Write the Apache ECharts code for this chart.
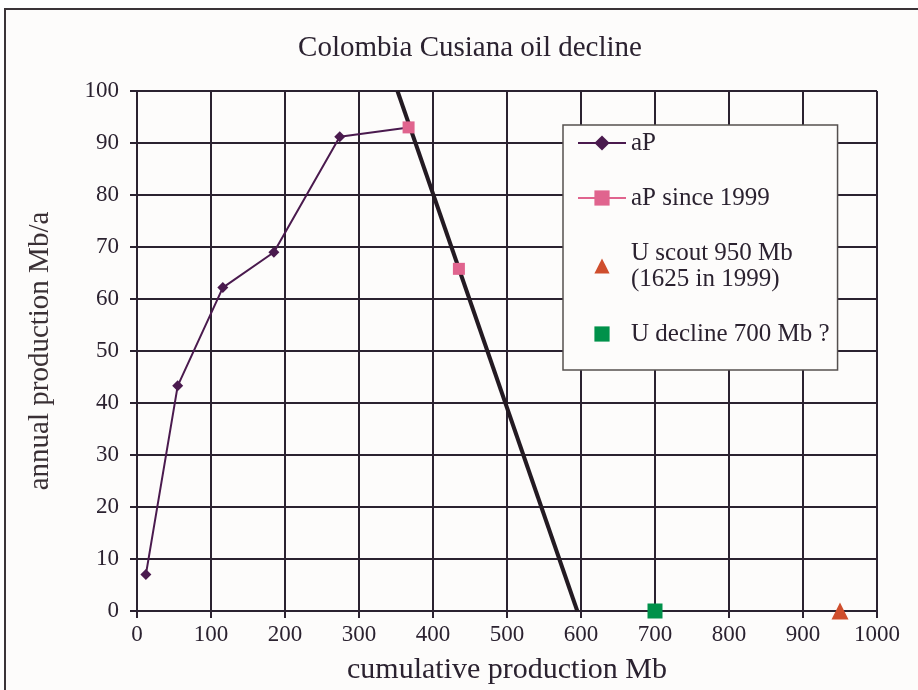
<!DOCTYPE html>
<html>
<head>
<meta charset="utf-8">
<script src="https://cdn.jsdelivr.net/npm/echarts@6/dist/echarts.min.js"></script>
<style>
  html, body { margin: 0; padding: 0; background: #ffffff; }
  #chart { width: 918px; height: 690px; }
</style>
</head>
<body>
<div id="chart"></div>
<script>
// cumulative production (Mb) vs annual production (Mb/a)
const apCum = [12, 55, 116, 185, 274, 367]
const apProd = [7, 43.3, 62.2, 69, 91.2, 93]
const since99Cum = [367, 435]
const since99Prod = [93, 65.8]
const declineCum = [352, 595]
const declineProd = [100, 0]
const scoutU = [[950, 0]]
const declineU = [[700, 0]]

const zip = (xs, ys) => xs.map((x, i) => [x, ys[i]])

const serif = '"Liberation Serif", "DejaVu Serif", serif'
const ink = '#2b2230'

const chart = echarts.init(document.getElementById('chart'))

chart.setOption({
  backgroundColor: '#ffffff',
  animation: false,
  graphic: [
    {
      type: 'rect',
      z: -10,
      shape: { x: 5, y: 9, width: 1000, height: 1000 },
      style: { fill: '#fdfcfb', stroke: '#3a3438', lineWidth: 2 }
    }
  ],
  title: {
    text: 'Colombia Cusiana oil decline',
    left: 465,
    top: 29,
    textAlign: 'center',
    textStyle: { fontFamily: serif, fontWeight: 'normal', fontSize: 29, color: ink }
  },
  grid: { left: 137, right: 41, top: 91, bottom: 76 },
  xAxis: {
    type: 'value',
    min: 0,
    max: 1000,
    interval: 100,
    name: 'cumulative production Mb',
    nameLocation: 'middle',
    nameGap: 44,
    nameTextStyle: { fontFamily: serif, fontSize: 30, color: ink },
    axisLine: { show: true, lineStyle: { color: ink, width: 2 } },
    axisTick: { show: true, length: 7, lineStyle: { color: ink, width: 2 } },
    axisLabel: { fontFamily: serif, fontSize: 23, color: ink, margin: 12, formatter: v => String(v) },
    splitLine: { show: true, lineStyle: { color: ink, width: 2 } }
  },
  yAxis: {
    type: 'value',
    min: 0,
    max: 100,
    interval: 10,
    name: 'annual production Mb/a',
    nameLocation: 'middle',
    nameGap: 82,
    nameTextStyle: { fontFamily: serif, fontSize: 29, color: '#3a3035' },
    axisLine: { show: true, lineStyle: { color: ink, width: 2 } },
    axisTick: { show: true, length: 7, lineStyle: { color: ink, width: 2 } },
    axisLabel: { fontFamily: serif, fontSize: 23, color: ink, margin: 18 },
    splitLine: { show: true, lineStyle: { color: ink, width: 2 } }
  },
  legend: {
    orient: 'vertical',
    left: 563,
    top: 125,
    padding: [5, 8, 23, 14],
    itemGap: 29,
    itemWidth: 48,
    itemHeight: 19,
    backgroundColor: '#fdfcfb',
    borderColor: '#55504f',
    borderWidth: 1.5,
    textStyle: { fontFamily: serif, fontSize: 25, color: ink, lineHeight: 26 },
    data: [
      { name: 'aP' },
      { name: 'aP since 1999', lineStyle: { color: '#e0648e', width: 2, opacity: 1 } },
      { name: 'U scout 950 Mb\n(1625 in 1999)' },
      { name: 'U decline 700 Mb ?' }
    ]
  },
  series: [
    {
      name: 'decline',
      type: 'line',
      data: zip(declineCum, declineProd),
      symbol: 'none',
      lineStyle: { color: '#231a22', width: 4 },
      z: 3
    },
    {
      name: 'aP',
      type: 'line',
      data: zip(apCum, apProd),
      symbol: 'diamond',
      symbolSize: 11,
      lineStyle: { color: '#4a1a4e', width: 2 },
      itemStyle: { color: '#4a1a4e' },
      z: 4
    },
    {
      name: 'aP since 1999',
      type: 'line',
      data: zip(since99Cum, since99Prod),
      symbol: 'rect',
      symbolSize: 12,
      lineStyle: { color: '#e0648e', width: 2, opacity: 0 },
      itemStyle: { color: '#e0648e' },
      z: 5
    },
    {
      name: 'U scout 950 Mb\n(1625 in 1999)',
      type: 'line',
      data: scoutU,
      symbol: 'triangle',
      symbolSize: 17,
      showAllSymbol: true,
      lineStyle: { width: 0, opacity: 0 },
      itemStyle: { color: '#cf4e2d', opacity: 1 },
      clip: false,
      z: 6
    },
    {
      name: 'U decline 700 Mb ?',
      type: 'line',
      data: declineU,
      symbol: 'rect',
      symbolSize: 15,
      showAllSymbol: true,
      lineStyle: { width: 0, opacity: 0 },
      itemStyle: { color: '#00914a', opacity: 1 },
      clip: false,
      z: 6
    }
  ]
})
</script>
</body>
</html>
